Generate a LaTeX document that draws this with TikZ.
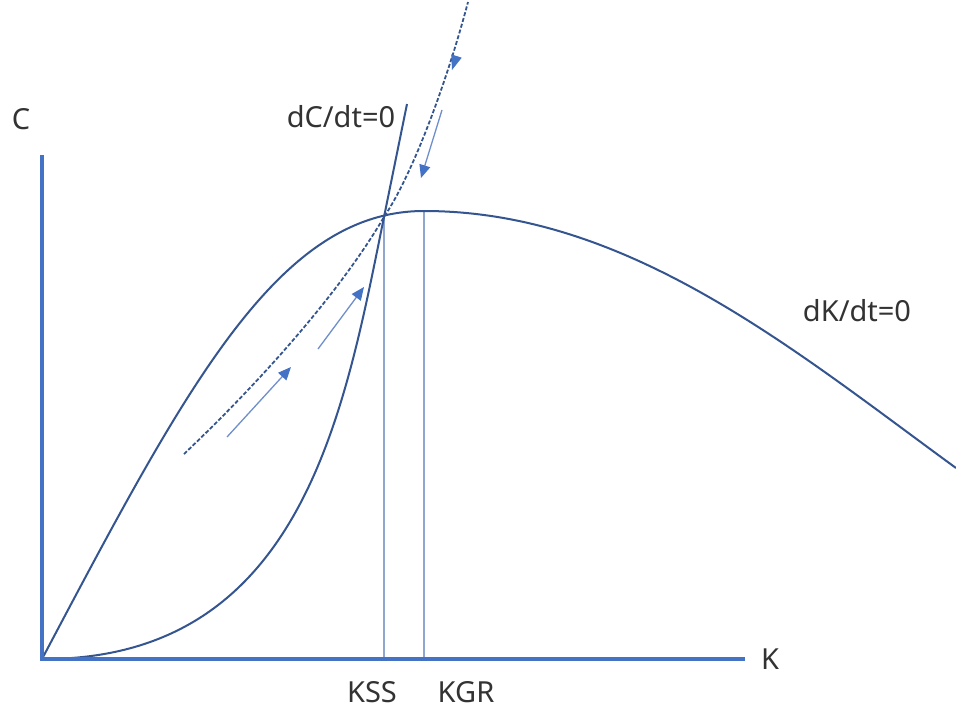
\documentclass[tikz,border=0pt]{standalone}
\usepackage{fontspec}
\setmainfont{Noto Sans}
\usetikzlibrary{arrows.meta}
\definecolor{axisblue}{HTML}{4472C4}
\definecolor{curveblue}{HTML}{34558F}
\definecolor{thinblue}{HTML}{6F8FCC}
\definecolor{guideblue}{HTML}{8EA6D0}
\definecolor{labelgray}{HTML}{333333}
\tikzset{
  axisline/.style={axisblue, line width=4pt},
  curve/.style={curveblue, line width=2pt},
  saddle/.style={curveblue, line width=1.8pt, dash pattern=on 4pt off 2pt},
  guide/.style={guideblue, line width=1.2pt},
  flow/.style={thinblue, line width=1.3pt, -{Triangle[length=13pt,width=11pt,fill=axisblue,color=axisblue]}},
  lbl/.style={text=labelgray, font=\fontsize{29}{35}\selectfont, inner sep=0pt}
}
\begin{document}
\begin{tikzpicture}[x=1pt,y=-1pt]
\useasboundingbox[fill=white] (0,0) rectangle (956,713);
% coordinates
\coordinate (O) at (42,659);
\coordinate (Ytop) at (42,155);
\coordinate (Xend) at (745,659);
\coordinate (SS) at (384,217);
\coordinate (GR) at (424,211);
\coordinate (SSb) at (384,659);
\coordinate (GRb) at (424,659);
% guide lines
\draw[guide] (SS) -- (SSb);
\draw[guide] (GR) -- (GRb);
% dK/dt=0 curve
\draw[curve] (O) .. controls (187,385) and (278,211) .. (GR)
   .. controls (628,211) and (794,350) .. (956,468);
% dC/dt=0 curve
\draw[curve] (O) .. controls (302,660) and (344,414) .. (SS) -- (407,104);
% saddle path
\draw[saddle] (184,454) .. controls (262,380) and (340,292) .. (SS)
   .. controls (414,172) and (448,78) .. (468,2);
% arrowhead on the saddle path (pointing down toward the steady state)
\fill[axisblue] (452,70) -- (461.7,57.7) -- (451.3,54.3) -- cycle;
% flow arrows
\coordinate (a1s) at (227,437); \coordinate (a1e) at (291,367);
\coordinate (a2s) at (318,349); \coordinate (a2e) at (364,287);
\coordinate (a4s) at (442,110); \coordinate (a4e) at (421,178);
\draw[flow] (a1s) -- (a1e);
\draw[flow] (a2s) -- (a2e);
\draw[flow] (a4s) -- (a4e);
% axes
\draw[axisline] (Ytop) -- (42,661);
\draw[axisline] (40,659) -- (Xend);
% labels
\node[lbl] (lC) at (21,119) {C};
\node[lbl] (lK) at (770,659) {K};
\node[lbl] (ldC) at (341,117) {dC/dt=0};
\node[lbl] (ldK) at (857,311) {dK/dt=0};
\node[lbl] (lKSS) at (372,692) {KSS};
\node[lbl] (lKGR) at (466,692) {KGR};
\end{tikzpicture}
\end{document}
